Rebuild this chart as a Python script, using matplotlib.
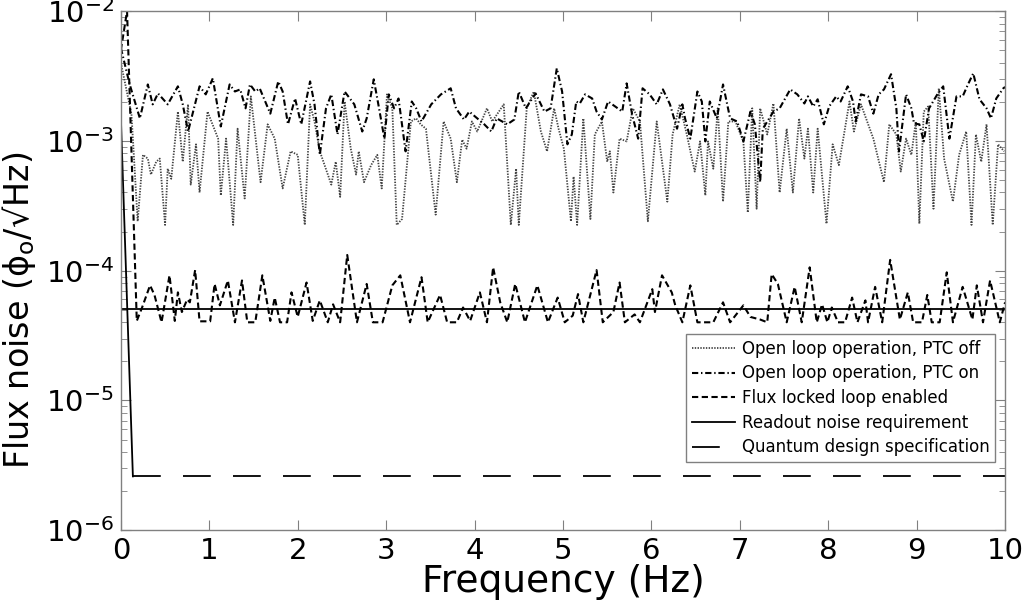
import matplotlib
matplotlib.use("Agg")
import matplotlib.pyplot as plt
import numpy as np
from matplotlib.ticker import LogLocator, FixedLocator

# open loop, PTC on (dash-dot), values in 1e-3 phi_o/sqrt(Hz)
f_ptc_on = [0.00, 0.10, 0.215, 0.305, 0.36, 0.42, 0.50, 0.53, 0.645, 0.70, 0.76, 0.89, 0.96, 1.04, 1.13,
            1.23, 1.29, 1.35, 1.41, 1.46, 1.52, 1.57, 1.69, 1.78, 1.83, 1.89, 1.97, 2.04, 2.14, 2.19,
            2.25, 2.32, 2.38, 2.45, 2.53, 2.64, 2.73, 2.78, 2.86, 2.92, 2.98, 3.03, 3.09, 3.14, 3.22,
            3.29, 3.34, 3.40, 3.51, 3.62, 3.73, 3.79, 3.88, 3.94, 4.03, 4.11, 4.19, 4.25, 4.37, 4.45,
            4.50, 4.58, 4.69, 4.79, 4.86, 4.93, 4.99, 5.05, 5.10, 5.15, 5.19, 5.25, 5.33, 5.38, 5.44,
            5.51, 5.59, 5.67, 5.72, 5.78, 5.85, 5.90, 5.98, 6.06, 6.13, 6.21, 6.29, 6.35, 6.38, 6.44,
            6.52, 6.57, 6.61, 6.66, 6.74, 6.81, 6.89, 6.97, 7.04, 7.12, 7.17, 7.23, 7.26, 7.38, 7.45,
            7.57, 7.65, 7.73, 7.77, 7.83, 7.88, 7.95, 8.01, 8.09, 8.14, 8.22, 8.28, 8.31, 8.37, 8.45,
            8.51, 8.57, 8.63, 8.71, 8.77, 8.80, 8.88, 8.94, 8.97, 9.03, 9.08, 9.14, 9.24, 9.30, 9.37,
            9.45, 9.52, 9.58, 9.64, 9.71, 9.79, 9.84, 9.90, 9.98, 10.0]
ptc_on = [5.2, 2.72, 1.49, 2.72, 1.91, 2.32, 2.01, 1.91, 2.63, 1.91, 1.18, 2.63, 2.28, 3.03, 1.29,
          2.72, 2.40, 2.49, 1.78, 2.72, 2.40, 2.54, 1.62, 2.87, 2.40, 1.34, 2.12, 1.34, 2.87, 1.91,
          0.78, 1.78, 2.28, 1.12, 2.40, 1.91, 1.18, 1.49, 2.98, 1.78, 1.04, 2.28, 1.78, 2.12, 0.83,
          2.01, 1.78, 1.41, 1.91, 2.28, 2.54, 1.78, 1.46, 1.68, 1.49, 1.34, 1.18, 1.49, 1.34, 1.46,
          2.40, 1.78, 2.32, 1.68, 1.78, 3.62, 2.40, 0.94, 1.12, 2.01, 1.94, 2.28, 2.12, 1.68, 1.46,
          2.01, 1.84, 1.68, 2.77, 1.62, 1.04, 2.54, 2.28, 1.91, 2.49, 1.91, 1.24, 1.91, 1.49, 1.04,
          2.40, 2.01, 0.99, 2.01, 1.49, 2.72, 1.49, 1.41, 0.99, 1.68, 1.34, 0.48, 1.24, 1.68, 1.78,
          2.49, 2.28, 1.94, 2.20, 1.84, 2.09, 1.34, 1.84, 2.20, 2.01, 2.63, 2.01, 1.41, 2.28, 2.20,
          1.62, 2.28, 2.49, 3.26, 1.78, 0.83, 2.28, 1.78, 1.36, 1.34, 0.99, 1.78, 2.32, 2.63, 1.04,
          2.20, 2.20, 2.72, 3.31, 2.09, 1.78, 1.49, 2.12, 2.54, 2.6]

# open loop, PTC off (dotted), values in 1e-3 phi_o/sqrt(Hz)
f_ptc_off = [0.00, 0.12, 0.19, 0.25, 0.305, 0.34, 0.40, 0.44, 0.50, 0.53, 0.57, 0.645, 0.70, 0.76, 0.79,
             0.85, 0.89, 0.98, 1.10, 1.13, 1.19, 1.27, 1.32, 1.40, 1.47, 1.58, 1.66, 1.74, 1.83, 1.92,
             2.00, 2.08, 2.14, 2.19, 2.25, 2.38, 2.43, 2.48, 2.53, 2.60, 2.66, 2.69, 2.75, 2.83, 2.90,
             2.95, 3.01, 3.07, 3.12, 3.18, 3.28, 3.34, 3.39, 3.45, 3.56, 3.65, 3.73, 3.80, 3.86, 3.91,
             3.97, 4.03, 4.14, 4.20, 4.30, 4.33, 4.41, 4.47, 4.50, 4.59, 4.67, 4.75, 4.82, 4.90, 4.95,
             5.01, 5.09, 5.12, 5.16, 5.23, 5.31, 5.36, 5.44, 5.50, 5.53, 5.57, 5.64, 5.72, 5.79, 5.87,
             5.96, 6.06, 6.18, 6.24, 6.32, 6.40, 6.49, 6.55, 6.61, 6.64, 6.70, 6.75, 6.81, 6.87, 6.95,
             7.04, 7.09, 7.14, 7.19, 7.23, 7.31, 7.38, 7.45, 7.53, 7.60, 7.67, 7.73, 7.77, 7.83, 7.88,
             7.98, 8.05, 8.12, 8.24, 8.29, 8.37, 8.51, 8.63, 8.69, 8.77, 8.82, 8.88, 8.94, 8.99, 9.03,
             9.08, 9.13, 9.19, 9.25, 9.31, 9.41, 9.48, 9.56, 9.62, 9.67, 9.73, 9.79, 9.86, 9.92, 9.99]
ptc_off = [4.0, 1.6, 0.24, 0.78, 0.73, 0.55, 0.69, 0.73, 0.225, 0.61, 0.51, 1.68, 0.69, 1.91, 0.46,
           0.94, 0.40, 1.68, 1.04, 0.38, 1.04, 0.225, 1.24, 0.36, 2.20, 0.48, 1.34, 1.04, 0.43, 0.83,
           0.78, 0.225, 1.91, 1.41, 0.83, 0.46, 0.69, 0.37, 2.01, 0.87, 0.55, 0.83, 0.48, 0.65, 0.78,
           0.43, 2.28, 1.78, 0.225, 0.25, 1.41, 1.49, 1.34, 1.24, 0.27, 1.41, 1.04, 0.48, 1.02, 0.87,
           1.41, 1.18, 1.78, 1.41, 1.78, 1.91, 0.225, 0.61, 0.225, 1.78, 2.40, 1.18, 0.83, 1.78, 1.24,
           0.87, 0.24, 0.53, 0.225, 1.49, 0.25, 1.12, 1.41, 0.69, 0.83, 0.40, 1.04, 0.99, 1.78, 1.41,
           0.24, 1.41, 0.34, 1.12, 1.91, 1.12, 0.58, 0.99, 0.38, 0.99, 0.61, 1.78, 0.34, 1.41, 1.41,
           0.99, 0.28, 1.78, 0.30, 1.78, 1.12, 1.94, 0.40, 1.24, 0.40, 1.49, 0.73, 1.24, 0.40, 1.24,
           0.23, 0.94, 0.65, 2.01, 1.18, 1.91, 1.04, 0.48, 1.34, 1.12, 0.58, 1.04, 0.78, 1.41, 0.23,
           1.68, 1.84, 0.30, 2.54, 0.73, 0.34, 0.78, 1.18, 0.225, 1.12, 0.69, 1.34, 0.225, 0.94, 0.83]

# flux locked loop (dashed), values in 1e-5 phi_o/sqrt(Hz)
f_fll = [0.00, 0.07, 0.18, 0.24, 0.33, 0.38, 0.46, 0.55, 0.61, 0.645, 0.69, 0.75, 0.78, 0.84, 0.89,
         1.01, 1.06, 1.12, 1.21, 1.29, 1.37, 1.43, 1.52, 1.60, 1.69, 1.74, 1.80, 1.88, 1.93, 2.00,
         2.10, 2.17, 2.25, 2.34, 2.40, 2.48, 2.56, 2.67, 2.78, 2.85, 2.96, 3.07, 3.16, 3.27, 3.40,
         3.47, 3.61, 3.69, 3.80, 3.87, 3.95, 4.06, 4.14, 4.21, 4.29, 4.37, 4.46, 4.57, 4.71, 4.83,
         4.94, 5.02, 5.11, 5.17, 5.23, 5.38, 5.45, 5.57, 5.64, 5.70, 5.81, 5.87, 6.01, 6.04, 6.12,
         6.23, 6.27, 6.35, 6.44, 6.52, 6.70, 6.81, 6.89, 7.04, 7.12, 7.23, 7.31, 7.36, 7.43, 7.53,
         7.62, 7.70, 7.79, 7.87, 7.93, 7.99, 8.04, 8.11, 8.19, 8.27, 8.33, 8.42, 8.45, 8.53, 8.61,
         8.70, 8.81, 8.90, 8.96, 9.06, 9.12, 9.17, 9.26, 9.34, 9.41, 9.52, 9.63, 9.68, 9.75, 9.83,
         9.94, 10.0]
fll = [500, 1000, 4.1, 5.2, 7.7, 6.5, 4.0, 9.2, 4.1, 6.8, 4.8, 6.0, 5.7, 10.1, 4.07,
       4.07, 7.9, 5.4, 8.4, 4.0, 8.4, 4.0, 4.0, 9.2, 4.1, 6.2, 4.0, 4.0, 6.8, 4.4,
       8.1, 4.1, 5.9, 4.0, 5.5, 4.0, 13.2, 4.0, 7.9, 4.0, 4.0, 7.7, 9.2, 4.0, 8.9,
       4.0, 6.5, 4.0, 4.0, 5.2, 4.1, 6.8, 4.0, 10.6, 5.7, 4.0, 7.9, 4.0, 7.7, 4.0,
       6.2, 4.0, 4.5, 6.6, 4.0, 10.1, 4.0, 4.8, 8.1, 4.0, 4.6, 4.0, 7.2, 4.8, 9.2,
       6.8, 5.4, 4.0, 7.7, 4.0, 4.0, 5.7, 4.0, 5.4, 4.4, 4.2, 4.0, 9.4, 7.9, 4.0,
       7.5, 4.0, 10.6, 4.0, 5.5, 4.0, 5.2, 4.0, 4.0, 6.2, 4.0, 5.9, 4.0, 7.5, 4.0,
       12.1, 4.2, 6.8, 4.0, 4.0, 6.5, 4.0, 4.0, 9.7, 4.0, 7.5, 4.2, 7.7, 4.0, 8.4,
       4.0, 5.7]

# requirement and specification
f_readout = [0.0, 10.0]
readout = [5.1e-5, 5.1e-5]
f_spec_rolloff = [0.0, 0.136]
spec_rolloff = [1.5e-3, 2.6e-6]
f_spec = [0.136, 10.0]
spec = [2.6e-6, 2.6e-6]

labels = ["Open loop operation, PTC off", "Open loop operation, PTC on",
          "Flux locked loop enabled", "Readout noise requirement",
          "Quantum design specification"]

plt.rcParams['lines.scale_dashes'] = False

fig = plt.figure(figsize=(10.33, 6.13), dpi=100)
ax = fig.add_axes([0.117, 0.135, 0.856, 0.847])

ax.plot(f_ptc_off, np.array(ptc_off) * 1e-3, color='#444444', lw=1.3,
        dashes=(1.0, 1.0), label=labels[0])
ax.plot(f_ptc_on, np.array(ptc_on) * 1e-3, color='black', lw=1.5,
        dashes=(4.5, 2.0, 1.0, 2.0), label=labels[1])
ax.plot(f_fll, np.array(fll) * 1e-5, color='black', lw=1.5,
        dashes=(4.5, 2.5), label=labels[2])
ax.plot(f_readout, readout, color='black', lw=1.3, label=labels[3])
ax.plot(f_spec_rolloff, spec_rolloff, color='black', lw=1.3)
ax.plot(f_spec, spec, color='black', lw=1.3, dashes=(20, 16), label=labels[4])

ax.set_yscale('log')
ax.set_xlim(0, 10)
ax.set_ylim(1e-6, 1e-2)
ax.xaxis.set_major_locator(FixedLocator(range(0, 11)))
ax.yaxis.set_major_locator(LogLocator(base=10, numticks=10))
ax.yaxis.set_minor_locator(LogLocator(base=10, subs=np.arange(2, 10), numticks=10))

for side in ['left', 'right', 'top', 'bottom']:
    ax.spines[side].set_color('#808080')
    ax.spines[side].set_linewidth(1.0)
ax.tick_params(which='both', direction='in', top=True, right=True, color='#808080')
ax.tick_params(which='major', length=7, labelsize=21, pad=5)
ax.tick_params(which='minor', length=4)

ax.set_xlabel('Frequency (Hz)', fontsize=27, labelpad=-1)
ax.set_ylabel('Flux noise (ϕ$_\\mathrm{o}$/√Hz)', fontsize=24)
ax.yaxis.set_label_coords(-0.094, 0.423)

leg = ax.legend(loc='lower right', bbox_to_anchor=(0.989, 0.131), fontsize=12,
                handlelength=2.6, handletextpad=0.4, borderpad=0.35, labelspacing=0.4,
                fancybox=False, framealpha=1, edgecolor='#808080', borderaxespad=0)
leg.get_frame().set_linewidth(1.0)

fig.savefig('out.png', dpi=100)
